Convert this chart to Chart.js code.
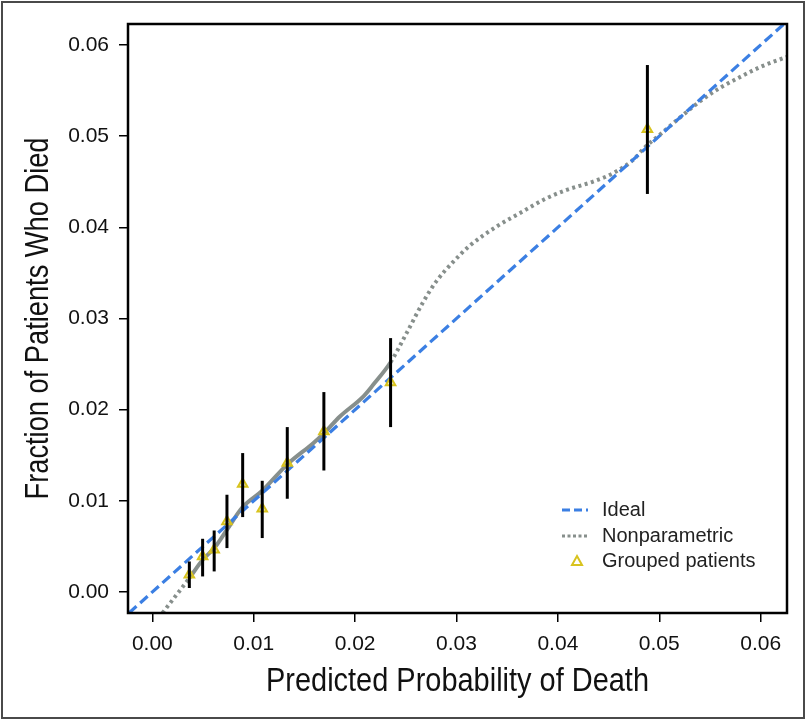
<!DOCTYPE html>
<html>
<head>
<meta charset="utf-8">
<script src="https://cdn.jsdelivr.net/npm/chart.js@4"></script>
<style>
  html, body { margin: 0; padding: 0; background: #fff; }
  #wrap { width: 809px; height: 721px; }
</style>
</head>
<body>
<div id="wrap"><canvas id="calib" width="809" height="721"></canvas></div>
<script>
// axis ticks
const xTicks = [0, 0.01, 0.02, 0.03, 0.04, 0.05, 0.06];
const yTicks = [0, 0.01, 0.02, 0.03, 0.04, 0.05, 0.06];
const xTitle = 'Predicted Probability of Death';
const yTitle = 'Fraction of Patients Who Died';

// ideal line y = x
const idealX = [-0.01, 0.07];

// nonparametric (loess) curve
const npX = [0.0010, 0.00365, 0.00497, 0.00611, 0.00736, 0.00891, 0.01084, 0.01331, 0.01587, 0.01692,
             0.01850, 0.02080, 0.02178, 0.02350, 0.02508, 0.02671, 0.02803, 0.02967, 0.03132, 0.03395,
             0.03624, 0.03888, 0.04085, 0.04347, 0.04544, 0.04741, 0.04860, 0.05000, 0.05200, 0.05400,
             0.05600, 0.05800, 0.06000, 0.06260];
const npY = [-0.0023, 0.00153, 0.00354, 0.00482, 0.00683, 0.00932, 0.01111, 0.01400, 0.01633, 0.01740,
             0.01925, 0.02144, 0.02273, 0.02520, 0.02840, 0.03180, 0.03410, 0.03620, 0.03800, 0.04008,
             0.04155, 0.04319, 0.04410, 0.04501, 0.04593, 0.04739, 0.04880, 0.05010, 0.05200, 0.05380,
             0.05530, 0.05650, 0.05760, 0.05870];
// part of the curve inside the grouped range is solid
const solidFrom = 0.00365;
const solidTo = 0.02350;

// grouped patients with confidence limits
const grpX  = [0.00365, 0.00496, 0.00610, 0.00736, 0.00891, 0.01084, 0.01331, 0.01692, 0.02350, 0.04883];
const grpY  = [0.00190, 0.00390, 0.00464, 0.00774, 0.01184, 0.00913, 0.01414, 0.01761, 0.02298, 0.05076];
const grpLo = [0.00044, 0.00171, 0.00226, 0.00482, 0.00822, 0.00592, 0.01023, 0.01333, 0.01809, 0.04366];
const grpHi = [0.00335, 0.00584, 0.00675, 0.01067, 0.01524, 0.01220, 0.01809, 0.02193, 0.02785, 0.05780];

const BLUE = '#3b7fe3';
const GRAY = '#878f8c';
const YELLOW = '#d8c31e';
const tickFont = { family: "'Liberation Sans', Arial, sans-serif", size: 21 };

const errorBars = {
  id: 'errorBars',
  afterDatasetsDraw(chart) {
    const { ctx, chartArea: a, scales: { x, y } } = chart;
    ctx.save();
    ctx.beginPath();
    ctx.rect(a.left, a.top, a.right - a.left, a.bottom - a.top);
    ctx.clip();
    ctx.strokeStyle = '#000';
    ctx.lineWidth = 3;
    grpX.forEach((v, i) => {
      const px = x.getPixelForValue(v);
      ctx.beginPath();
      ctx.moveTo(px, y.getPixelForValue(grpLo[i]));
      ctx.lineTo(px, y.getPixelForValue(grpHi[i]));
      ctx.stroke();
    });
    ctx.restore();
  }
};

// condensed axis titles: the original face is a narrow grotesque,
// so draw Liberation Sans squeezed horizontally
function condensedText(ctx, text, cx, cy, width, rot) {
  ctx.save();
  ctx.font = "33px 'Liberation Sans', Arial, sans-serif";
  ctx.fillStyle = '#111';
  ctx.textAlign = 'center';
  ctx.textBaseline = 'middle';
  const w = ctx.measureText(text).width;
  ctx.translate(cx, cy);
  ctx.rotate(rot);
  ctx.scale(width / w, 1);
  ctx.fillText(text, 0, 0);
  ctx.restore();
}

const frame = {
  id: 'frame',
  beforeDraw(chart) {
    const { ctx } = chart;
    ctx.save();
    ctx.fillStyle = '#fff';
    ctx.fillRect(0, 0, chart.width, chart.height);
    ctx.strokeStyle = '#4a4a4a';
    ctx.lineWidth = 2;
    ctx.strokeRect(2, 2, chart.width - 7, chart.height - 5);
    ctx.restore();
  },
  afterDraw(chart) {
    const { ctx, chartArea: a } = chart;
    ctx.save();
    ctx.strokeStyle = '#000';
    ctx.lineWidth = 2.5;
    ctx.strokeRect(a.left, a.top, a.right - a.left, a.bottom - a.top);
    ctx.restore();

    condensedText(ctx, xTitle, (a.left + a.right) / 2, 682, 383, 0);
    condensedText(ctx, yTitle, 39, (a.top + a.bottom) / 2, 362, -Math.PI / 2);

    // legend
    ctx.save();
    const lx = 562, tx = 602;
    const rows = [510, 536, 561];
    ctx.font = "20px 'Liberation Sans', Arial, sans-serif";
    ctx.fillStyle = '#222';
    ctx.textBaseline = 'middle';
    ctx.textAlign = 'left';
    ctx.lineWidth = 3;
    ctx.strokeStyle = BLUE;
    ctx.setLineDash([8, 4]);
    ctx.beginPath(); ctx.moveTo(lx, rows[0]); ctx.lineTo(lx + 26, rows[0]); ctx.stroke();
    ctx.strokeStyle = GRAY;
    ctx.setLineDash([3, 2.5]);
    ctx.beginPath(); ctx.moveTo(lx, rows[1]); ctx.lineTo(lx + 26, rows[1]); ctx.stroke();
    ctx.setLineDash([]);
    ctx.strokeStyle = YELLOW;
    ctx.lineWidth = 2;
    ctx.beginPath();
    ctx.moveTo(lx + 15, rows[2] - 5);
    ctx.lineTo(lx + 20, rows[2] + 4);
    ctx.lineTo(lx + 10, rows[2] + 4);
    ctx.closePath();
    ctx.stroke();
    ctx.fillText('Ideal', tx, rows[0]);
    ctx.fillText('Nonparametric', tx, rows[1]);
    ctx.fillText('Grouped patients', tx, rows[2]);
    ctx.restore();
  }
};

const axisGrid = { display: true, drawOnChartArea: false, drawTicks: true, tickLength: 9, color: '#000', lineWidth: 1.5 };

new Chart(document.getElementById('calib'), {
  type: 'scatter',
  data: {
    datasets: [
      {
        label: 'Grouped patients',
        data: grpX.map((v, i) => ({ x: v, y: grpY[i] })),
        pointStyle: 'triangle',
        pointRadius: 5.5,
        pointBorderWidth: 2,
        borderColor: YELLOW,
        backgroundColor: 'rgba(216,195,30,0.25)',
        order: 0
      },
      {
        label: 'Ideal',
        data: idealX.map(v => ({ x: v, y: v })),
        showLine: true,
        pointRadius: 0,
        borderColor: BLUE,
        borderWidth: 3.2,
        borderDash: [10, 5],
        order: 1
      },
      {
        label: 'Nonparametric',
        data: npX.map((v, i) => ({ x: v, y: npY[i] })),
        showLine: true,
        pointRadius: 0,
        borderColor: GRAY,
        borderWidth: 4,
        cubicInterpolationMode: 'monotone',
        segment: {
          borderDash: c => (c.p0.parsed.x < solidFrom - 1e-7 || c.p1.parsed.x > solidTo + 1e-7) ? [3, 3.5] : []
        },
        order: 2
      }
    ]
  },
  options: {
    responsive: false,
    animation: false,
    events: [],
    layout: { padding: { top: 24, right: 22, left: 0, bottom: 0 } },
    plugins: { legend: { display: false }, tooltip: { enabled: false } },
    scales: {
      x: {
        type: 'linear',
        min: -0.0024,
        max: 0.0626,
        afterFit: s => { s.height = 108; },
        afterBuildTicks: s => { s.ticks = xTicks.map(v => ({ value: v })); },
        grid: axisGrid,
        border: { display: false },
        ticks: { font: tickFont, color: '#111', padding: 10, maxRotation: 0, callback: v => v.toFixed(2) }
      },
      y: {
        type: 'linear',
        min: -0.0023,
        max: 0.0623,
        afterFit: s => { s.width = 128; },
        afterBuildTicks: s => { s.ticks = yTicks.map(v => ({ value: v })); },
        grid: axisGrid,
        border: { display: false },
        ticks: { font: tickFont, color: '#111', padding: 10, callback: v => v.toFixed(2) }
      }
    }
  },
  plugins: [frame, errorBars]
});
</script>
</body>
</html>
